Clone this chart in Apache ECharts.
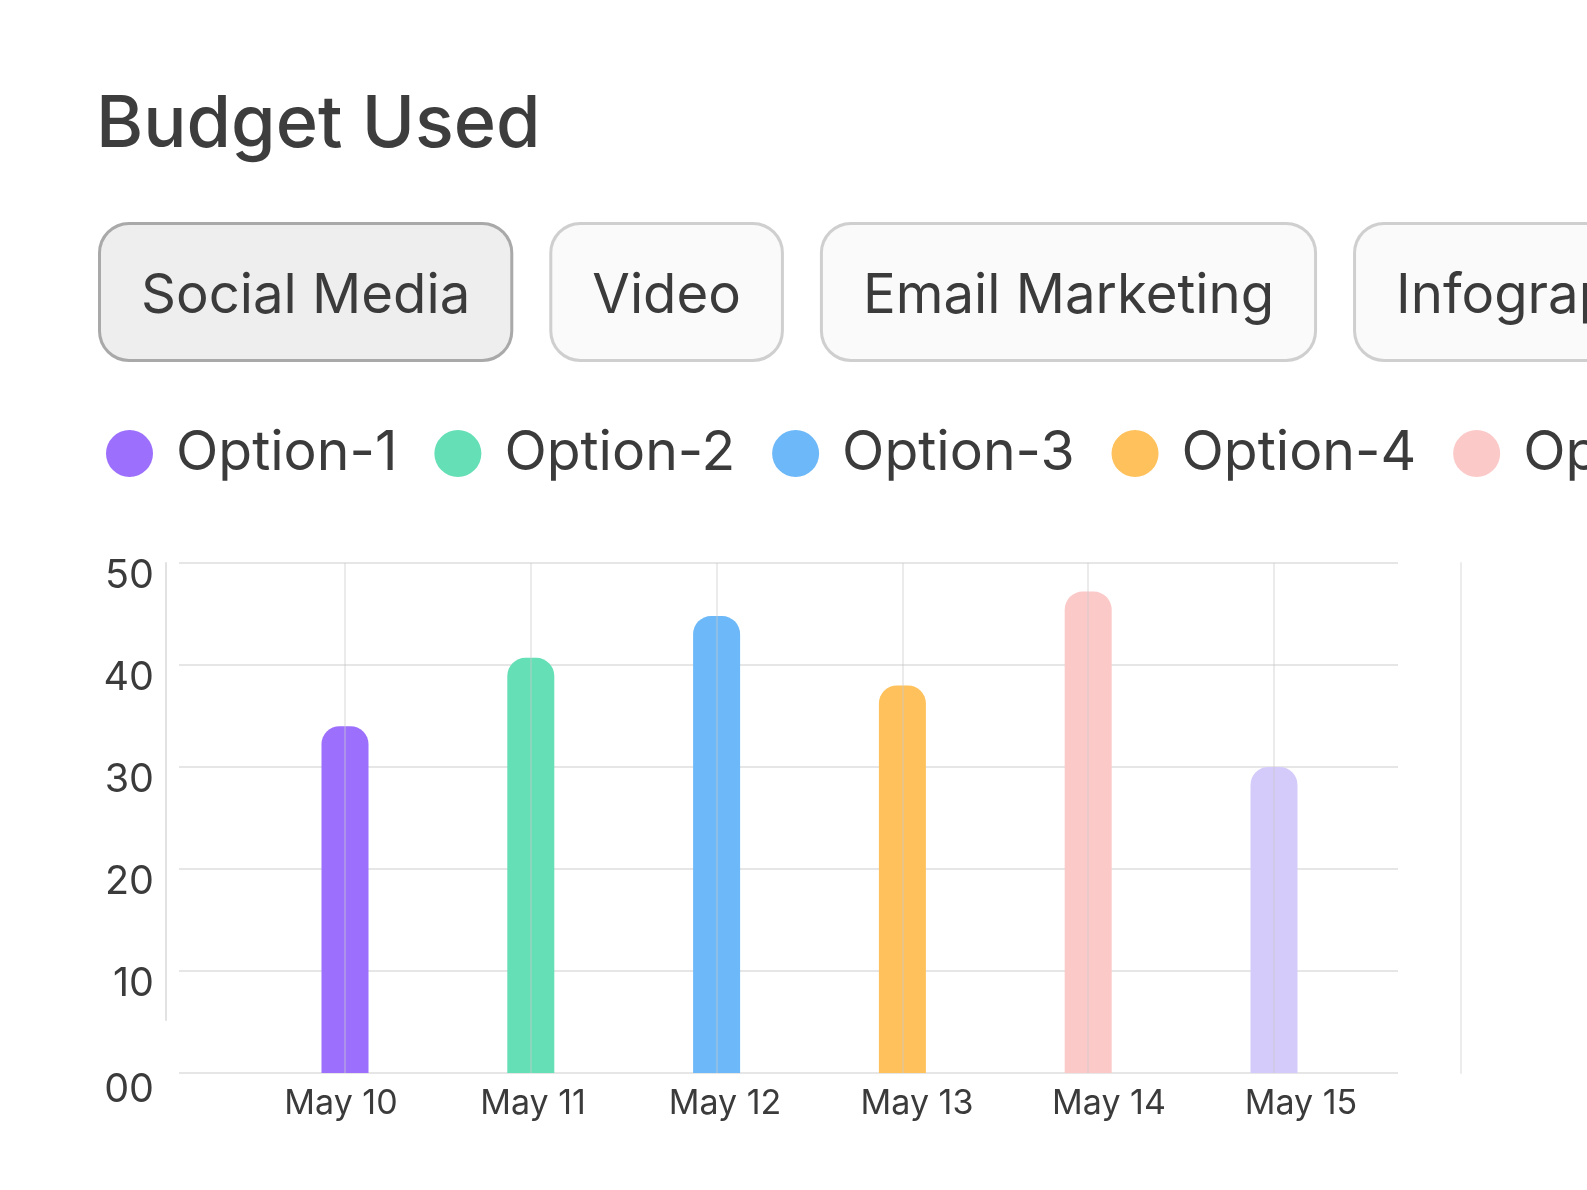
<!DOCTYPE html>
<html>
<head>
<meta charset="utf-8">
<title>Budget Used</title>
<script src="https://cdn.jsdelivr.net/npm/echarts@6/dist/echarts.min.js"></script>
<style>
html, body { margin: 0; padding: 0; background: #fff; overflow: hidden; }
#main { width: 2600px; height: 1190px; }
</style>
</head>
<body>
<div id="main"></div>
<script>
// chart data
var categories = ['May 10', 'May 11', 'May 12', 'May 13', 'May 14', 'May 15'];
var optionNames = ['Option-1', 'Option-2', 'Option-3', 'Option-4', 'Option-5', 'Option-6'];
var budgetValues = [34, 40.7, 44.8, 38, 47.2, 30];
var barColors = ['#9c6ffd', '#65dfb5', '#6cb8f8', '#fec15b', '#fcc9c9', '#d4cbfb'];
var tabLabels = ['Social Media', 'Video', 'Email Marketing', 'Infographics'];
var yMin = 0, yMax = 50, yStep = 10;

var FONT = 'Inter, "Noto Sans", sans-serif';
var TEXT = '#3b3b3b';
var TAB_FONT = 54.5;

// width of a text in px, used to lay the tab buttons one after another
function textWidth(str, size) {
	var ctx = document.createElement('canvas').getContext('2d');
	ctx.font = '400 ' + size + 'px ' + FONT;
	return ctx.measureText(str).width;
}

// tab buttons
var tabs = [];
var tabX = 101;
for (var i = 0; i < tabLabels.length; i++) {
	var active = i === 0;
	tabs.push({
		type: 'text',
		x: tabX,
		y: 225,
		style: {
			text: tabLabels[i],
			fontSize: TAB_FONT,
			fontFamily: FONT,
			fill: TEXT,
			lineHeight: 68,
			padding: [38, 40, 28, 40],
			backgroundColor: active ? '#eeeeee' : '#fafafa',
			borderColor: active ? '#a9a9a9' : '#cfcfcf',
			borderWidth: 3,
			borderRadius: 28
		}
	});
	tabX += textWidth(tabLabels[i], TAB_FONT) + 80 + 42;
}

// one series per option, each one only has a value on its own day
var series = [];
for (var k = 0; k < optionNames.length; k++) {
	var data = [];
	for (var j = 0; j < categories.length; j++) {
		data.push(j === k ? budgetValues[k] : '-');
	}
	series.push({
		name: optionNames[k],
		type: 'bar',
		xAxisIndex: 1,
		yAxisIndex: 2,
		barWidth: 47,
		barGap: '-100%',
		clip: false,
		itemStyle: {
			color: barColors[k],
			borderRadius: [18, 18, 0, 0]
		},
		data: data
	});
}

var myChart = echarts.init(document.getElementById('main'));
var option = {
	backgroundColor: '#ffffff',
	animation: false,
	title: {
		text: 'Budget Used',
		left: 91,
		top: 84,
		textStyle: {
			fontSize: 72,
			fontWeight: 500,
			color: '#3d3d3d',
			fontFamily: FONT
		}
	},
	legend: {
		data: optionNames,
		left: 101,
		top: 421,
		icon: 'circle',
		itemWidth: 47,
		itemHeight: 47,
		itemGap: 37,
		textStyle: {
			fontSize: 55.3,
			color: TEXT,
			fontFamily: FONT,
			padding: [0, 0, 0, 18]
		}
	},
	graphic: tabs,
	grid: [
		// horizontal grid lines and the right border line
		{ left: 179, top: 563, width: 1219, height: 510 },
		// bars and the vertical grid lines
		{ left: 345, top: 563, width: 929, height: 510 },
		// value labels
		{ left: 166, top: 563, width: 1, height: 510 },
		// day labels
		{ left: 341, top: 563, width: 960, height: 510 },
		// short left border line
		{ left: 166, top: 563, width: 1, height: 457 }
	],
	xAxis: [
		{ gridIndex: 0, type: 'value', show: false, min: 0, max: 1 },
		{
			gridIndex: 1,
			type: 'category',
			data: categories,
			boundaryGap: false,
			z: 10,
			axisLine: { show: false },
			axisTick: { show: false },
			axisLabel: { show: false },
			splitLine: {
				show: true,
				lineStyle: { color: 'rgba(203,203,203,0.5)', width: 1.5 }
			}
		},
		{ gridIndex: 2, type: 'value', show: false, min: 0, max: 1 },
		{
			gridIndex: 3,
			type: 'category',
			data: categories,
			boundaryGap: false,
			axisLine: { show: false },
			axisTick: { show: false },
			splitLine: { show: false },
			axisLabel: {
				fontSize: 34,
				color: TEXT,
				fontFamily: FONT,
				margin: 14
			}
		},
		{ gridIndex: 4, type: 'value', show: false, min: 0, max: 1 }
	],
	yAxis: [
		{
			gridIndex: 0,
			type: 'value',
			min: yMin,
			max: yMax,
			interval: yStep,
			axisLine: { show: false },
			axisTick: { show: false },
			axisLabel: { show: false },
			splitLine: { show: true, lineStyle: { color: '#e6e6e6', width: 2 } }
		},
		{
			gridIndex: 0,
			type: 'value',
			position: 'right',
			min: yMin,
			max: yMax,
			interval: yStep,
			offset: 63,
			axisLine: { show: true, lineStyle: { color: '#ececec', width: 2 } },
			axisTick: { show: false },
			axisLabel: { show: false },
			splitLine: { show: false }
		},
		{ gridIndex: 1, type: 'value', min: yMin, max: yMax, show: false },
		{
			gridIndex: 2,
			type: 'value',
			min: yMin,
			max: yMax,
			interval: yStep,
			axisLine: { show: false },
			axisTick: { show: false },
			splitLine: { show: false },
			axisLabel: {
				fontSize: 39.5,
				color: TEXT,
				fontFamily: FONT,
				margin: 12,
				padding: [26, 0, 0, 0],
				formatter: function(v) {
					return v === 0 ? '{zero|00}' : String(v);
				},
				rich: {
					zero: { fontSize: 39.5, color: TEXT, fontFamily: FONT, padding: [8, 0, 0, 0] }
				}
			}
		},
		{ gridIndex: 3, type: 'value', min: yMin, max: yMax, show: false },
		{
			gridIndex: 4,
			type: 'value',
			min: yMin,
			max: yMax,
			axisLine: { show: true, lineStyle: { color: '#e2e2e2', width: 2 } },
			axisTick: { show: false },
			axisLabel: { show: false },
			splitLine: { show: false }
		}
	],
	series: series
};
myChart.setOption(option);
</script>
</body>
</html>
